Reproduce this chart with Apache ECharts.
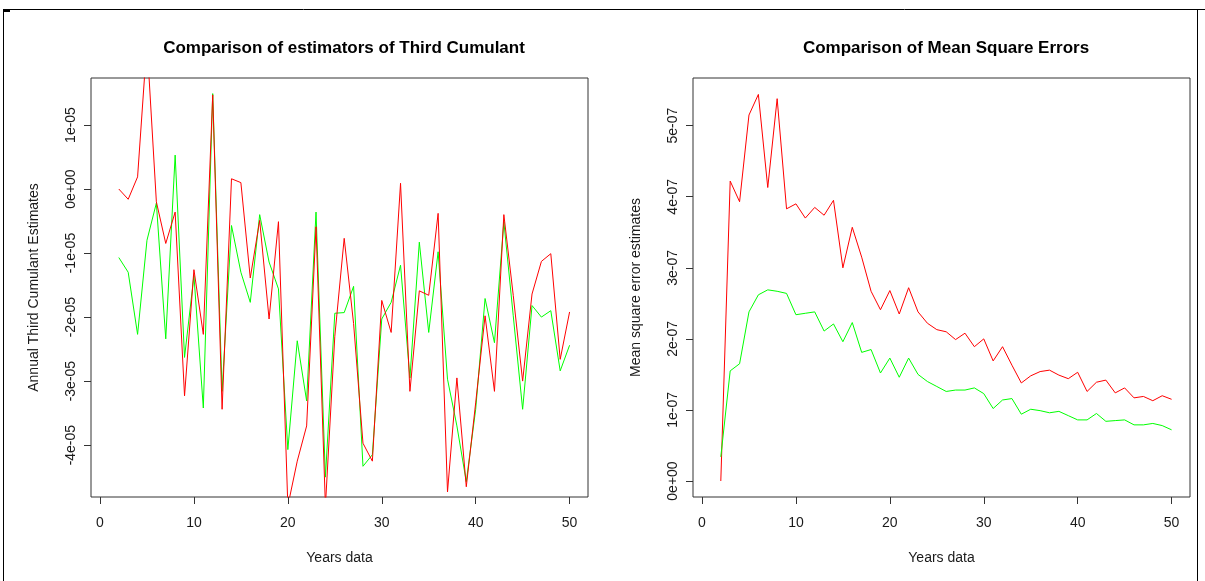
<!DOCTYPE html>
<html>
<head>
<meta charset="utf-8">
<script src="https://cdn.jsdelivr.net/npm/echarts@6/dist/echarts.min.js"></script>
<style>
html,body{margin:0;padding:0;background:#fff;}
#c{width:1205px;height:581px;}
</style>
</head>
<body>
<div id="c"></div>
<script>
// Years (x values)
const years = [2,3,4,5,6,7,8,9,10,11,12,13,14,15,16,17,18,19,20,21,22,23,24,25,26,27,28,29,30,31,32,33,34,35,36,37,38,39,40,41,42,43,44,45,46,47,48,49,50];

// Left panel: third cumulant estimates (units of 1e-05)
const cumRed = [0.0,-0.16,0.19,2.3,-0.2,-0.85,-0.36,-3.23,-1.26,-2.27,1.47,-3.44,0.16,0.1,-1.39,-0.49,-2.03,-0.51,-4.95,-4.25,-3.7,-0.59,-4.95,-2.3,-0.77,-2.1,-3.97,-4.25,-1.74,-2.24,0.09,-3.16,-1.59,-1.66,-0.38,-4.73,-2.95,-4.65,-3.34,-1.98,-3.16,-0.4,-1.66,-3.0,-1.64,-1.13,-1.01,-2.66,-1.92];
const cumGreen = [-1.07,-1.3,-2.27,-0.8,-0.22,-2.34,0.53,-2.63,-1.35,-3.42,1.49,-3.16,-0.57,-1.3,-1.77,-0.4,-1.14,-1.56,-4.07,-2.37,-3.31,-0.36,-4.5,-1.94,-1.93,-1.52,-4.33,-4.15,-2.03,-1.77,-1.19,-2.95,-0.83,-2.24,-0.98,-2.97,-3.7,-4.57,-3.44,-1.71,-2.4,-0.51,-1.98,-3.44,-1.82,-2.0,-1.9,-2.84,-2.44];

// Right panel: mean square errors (units of 1e-07)
const mseRed = [0.0,4.22,3.93,5.15,5.44,4.13,5.38,3.83,3.9,3.7,3.85,3.74,3.95,3.0,3.57,3.15,2.67,2.41,2.68,2.35,2.72,2.38,2.22,2.13,2.1,1.99,2.08,1.89,2.0,1.69,1.89,1.63,1.38,1.48,1.54,1.56,1.49,1.44,1.53,1.26,1.39,1.42,1.24,1.31,1.17,1.19,1.13,1.2,1.15];
const mseGreen = [0.34,1.55,1.65,2.38,2.62,2.69,2.67,2.64,2.34,2.36,2.38,2.11,2.21,1.96,2.23,1.81,1.85,1.52,1.73,1.46,1.73,1.5,1.4,1.33,1.26,1.28,1.28,1.31,1.23,1.02,1.14,1.16,0.94,1.01,0.99,0.96,0.98,0.92,0.86,0.86,0.95,0.84,0.85,0.86,0.79,0.79,0.81,0.78,0.72];

// Tick values and labels
const xTicks = [0,10,20,30,40,50];
const leftYTicks = [-4,-3,-2,-1,0,1];
const leftYLabels = ["-4e-05","-3e-05","-2e-05","-1e-05","0e+00","1e-05"];
const rightYTicks = [0,1,2,3,4,5];
const rightYLabels = ["0e+00","1e-07","2e-07","3e-07","4e-07","5e-07"];

const titles = ["Comparison of estimators of Third Cumulant","Comparison of Mean Square Errors"];
const xName = "Years data";
const yNames = ["Annual Third Cumulant Estimates","Mean square error estimates"];

function pairs(ys){ return years.map((x,i)=>[x, ys[i]]); }

const FONT = 'Liberation Sans, Arial, sans-serif';
const txtCol = '#1a1a1a';
const boxCol = '#333';

function xAxis(gi){
  return {
    type:'value', gridIndex:gi, min:-0.96, max:51.96,
    name:xName, nameLocation:'middle', nameGap:54,
    nameTextStyle:{fontFamily:FONT, fontSize:14, color:txtCol},
    axisLine:{show:false, onZero:false},
    axisTick:{show:true, customValues:xTicks, length:7, lineStyle:{color:boxCol}},
    axisLabel:{customValues:xTicks, fontFamily:FONT, fontSize:14, color:txtCol, margin:19},
    splitLine:{show:false}
  };
}
function yAxis(gi, mn, mx, ticks, labels, name){
  return {
    type:'value', gridIndex:gi, min:mn, max:mx,
    name:name, nameLocation:'middle', nameGap:50,
    nameTextStyle:{fontFamily:FONT, fontSize:14, color:txtCol},
    axisLine:{show:false, onZero:false},
    axisTick:{show:true, customValues:ticks, length:7, lineStyle:{color:boxCol}},
    axisLabel:{customValues:ticks, rotate:90, fontFamily:FONT, fontSize:14, color:txtCol, margin:13,
      formatter:function(v){ const i = ticks.indexOf(Math.round(v*1000)/1000); return i>=0?labels[i]:''; }},
    splitLine:{show:false}
  };
}

const chart = echarts.init(document.getElementById('c'), null, {renderer:'canvas'});
chart.setOption({
  backgroundColor:'#fff',
  animation:false,
  title:[
    {text:titles[0], left:339, top:35, textAlign:'center', textStyle:{fontFamily:FONT, fontSize:17, fontWeight:'bold', color:'#000'}},
    {text:titles[1], left:941, top:35, textAlign:'center', textStyle:{fontFamily:FONT, fontSize:17, fontWeight:'bold', color:'#000'}}
  ],
  grid:[
    {left:91, width:497, top:78, height:419, show:true, borderColor:boxCol, borderWidth:1, backgroundColor:'transparent'},
    {left:693, width:497, top:78, height:419, show:true, borderColor:boxCol, borderWidth:1, backgroundColor:'transparent'}
  ],
  xAxis:[xAxis(0), xAxis(1)],
  yAxis:[
    yAxis(0, -4.81, 1.734, leftYTicks, leftYLabels, yNames[0]),
    yAxis(1, -0.225, 5.671, rightYTicks, rightYLabels, yNames[1])
  ],
  series:[
    {type:'line', xAxisIndex:0, yAxisIndex:0, data:pairs(cumGreen), showSymbol:false, clip:true, lineStyle:{color:'#00ff00', width:1}, itemStyle:{color:'#00ff00'}},
    {type:'line', xAxisIndex:0, yAxisIndex:0, data:pairs(cumRed), showSymbol:false, clip:true, lineStyle:{color:'#ff0000', width:1}, itemStyle:{color:'#ff0000'}},
    {type:'line', xAxisIndex:1, yAxisIndex:1, data:pairs(mseRed), showSymbol:false, clip:true, lineStyle:{color:'#ff0000', width:1}, itemStyle:{color:'#ff0000'}},
    {type:'line', xAxisIndex:1, yAxisIndex:1, data:pairs(mseGreen), showSymbol:false, clip:true, lineStyle:{color:'#00ff00', width:1}, itemStyle:{color:'#00ff00'}}
  ],
  graphic:[
    {type:'line', shape:{x1:3, y1:9.5, x2:1205, y2:9.5}, style:{stroke:'#000', lineWidth:1}},
    {type:'line', shape:{x1:3.5, y1:9, x2:3.5, y2:581}, style:{stroke:'#000', lineWidth:1}},
    {type:'line', shape:{x1:3, y1:11, x2:10, y2:11}, style:{stroke:'#000', lineWidth:2}},
    {type:'line', shape:{x1:1197.5, y1:9, x2:1197.5, y2:581}, style:{stroke:'#000', lineWidth:1}}
  ]
});
</script>
</body>
</html>
